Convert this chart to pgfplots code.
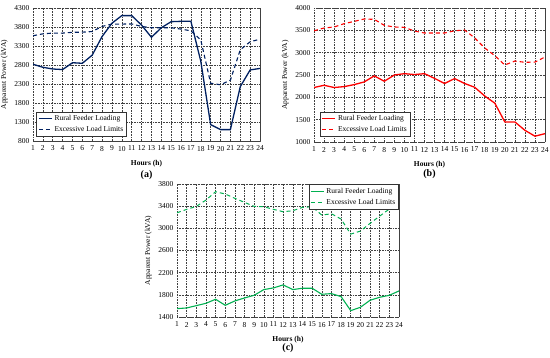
\documentclass[border=0pt]{standalone}
\usepackage{pgfplots}
\pgfplotsset{compat=1.18}
\usepackage{fontspec}
\setmainfont{Liberation Serif}
\definecolor{navy}{RGB}{0,32,96}
\definecolor{myred}{RGB}{255,0,0}
\definecolor{mygreen}{RGB}{0,176,80}
\pgfplotsset{
 mystyle/.style={
  scale only axis, anchor=south west, clip mode=individual,
  xmin=1, xmax=24, xtick={1,...,24},
  grid=major,
  grid style={black!75, dash pattern=on 0.8pt off 0.8pt, line width=0.5pt},
  axis line style={black!75, dash pattern=on 0.8pt off 0.8pt, line width=0.5pt},
  major tick length=0pt,
  tick label style={font=\fontsize{7.5}{8}\selectfont},
  xticklabel style={yshift=-1.5pt},
  /pgf/number format/assume math mode=true,
  /pgf/number format/set thousands separator={},
  label style={font=\fontsize{7.5}{9}\selectfont},
  xlabel={\textbf{Hours (h)}},
  xlabel style={yshift=-2pt},
  ylabel={Apparent Power (kVA)},
  legend style={font=\fontsize{7.5}{9}\selectfont, draw=black!80, line width=0.6pt, fill=white, inner sep=1.5pt, row sep=0.5pt},
  legend cell align=left,
  legend image code/.code={\draw[##1] (0pt,0pt) -- (13pt,0pt);},
 }
}
\begin{document}
\begin{tikzpicture}
\path[use as bounding box] (0pt,0pt) rectangle (550pt,357pt);
% (a)
\begin{axis}[mystyle, at={(33pt,216pt)}, width=227pt, height=133pt,
  ymin=800, ymax=4300, ytick={800,1300,...,4300},
  legend style={at={(rel axis cs:0.015,0.03)}, anchor=south west}]
\addplot[navy, line width=1.3pt] coordinates {
(1,2820)(2,2740)(3,2695)(4,2680)(5,2860)(6,2845)(7,3060)(8,3550)(9,3900)(10,4100)(11,4100)(12,3850)
(13,3530)(14,3780)(15,3940)(16,3950)(17,3950)(18,2900)(19,1230)(20,1100)(21,1100)(22,2230)(23,2670)(24,2710)};
\addlegendentry{Rural Feeder Loading}
\addplot[navy, line width=1.1pt, dash pattern=on 4pt off 3pt] coordinates {
(1,3570)(2,3620)(3,3640)(4,3640)(5,3660)(6,3665)(7,3680)(8,3815)(9,3877)(10,3877)(11,3880)(12,3815)
(13,3780)(14,3780)(15,3780)(16,3745)(17,3700)(18,3460)(19,2320)(20,2280)(21,2400)(22,3200)(23,3410)(24,3480)};
\addlegendentry{Excessive Load Limits}
\node[font=\bfseries\fontsize{10}{12}\selectfont] at (rel axis cs:0.5,0) [yshift=-34pt] {(a)};
\end{axis}
% (b)
\begin{axis}[mystyle, at={(314pt,215pt)}, width=231pt, height=134pt,
  ymin=1000, ymax=4000, ytick={1000,1500,...,4000},
  legend style={at={(rel axis cs:0.026,0.037)}, anchor=south west}]
\addplot[myred, line width=1.3pt] coordinates {
(1,2220)(2,2270)(3,2220)(4,2240)(5,2285)(6,2345)(7,2480)(8,2360)(9,2500)(10,2530)(11,2510)(12,2530)
(13,2425)(14,2310)(15,2420)(16,2310)(17,2225)(18,2030)(19,1870)(20,1450)(21,1450)(22,1262)(23,1130)(24,1187)};
\addlegendentry{Rural Feeder Loading}
\addplot[myred, line width=1.1pt, dash pattern=on 4pt off 3pt] coordinates {
(1,3490)(2,3552)(3,3575)(4,3650)(5,3700)(6,3754)(7,3746)(8,3612)(9,3575)(10,3567)(11,3485)(12,3440)
(13,3440)(14,3440)(15,3490)(16,3507)(17,3330)(18,3105)(19,2933)(20,2724)(21,2813)(22,2784)(23,2790)(24,2903)};
\addlegendentry{Excessive Load Limits}
\node[font=\bfseries\fontsize{10}{12}\selectfont] at (rel axis cs:0.5,0) [yshift=-32pt] {(b)};
\end{axis}
% (c)
\begin{axis}[mystyle, at={(177pt,40pt)}, width=222pt, height=133pt,
  ymin=1400, ymax=3800, ytick={1400,1800,...,3800},
  legend style={at={(rel axis cs:1,1)}, anchor=north east}]
\addplot[mygreen, line width=1.1pt] coordinates {
(1,1551)(2,1563)(3,1605)(4,1647)(5,1720)(6,1611)(7,1690)(8,1744)(9,1792)(10,1895)(11,1925)(12,1979)
(13,1895)(14,1919)(15,1919)(16,1810)(17,1822)(18,1768)(19,1515)(20,1575)(21,1702)(22,1756)(23,1792)(24,1870)};
\addlegendentry{Rural Feeder Loading}
\addplot[mygreen, line width=1pt, dash pattern=on 4pt off 3pt] coordinates {
(1,3281)(2,3342)(3,3396)(4,3510)(5,3661)(6,3619)(7,3541)(8,3468)(9,3396)(10,3390)(11,3342)(12,3300)
(13,3318)(14,3378)(15,3390)(16,3239)(17,3263)(18,3167)(19,2896)(20,2950)(21,3089)(22,3221)(23,3348)(24,3408)};
\addlegendentry{Excessive Load Limits}
\node[font=\bfseries\fontsize{10}{12}\selectfont] at (rel axis cs:0.5,0) [yshift=-31pt] {(c)};
\end{axis}
\end{tikzpicture}
\end{document}
